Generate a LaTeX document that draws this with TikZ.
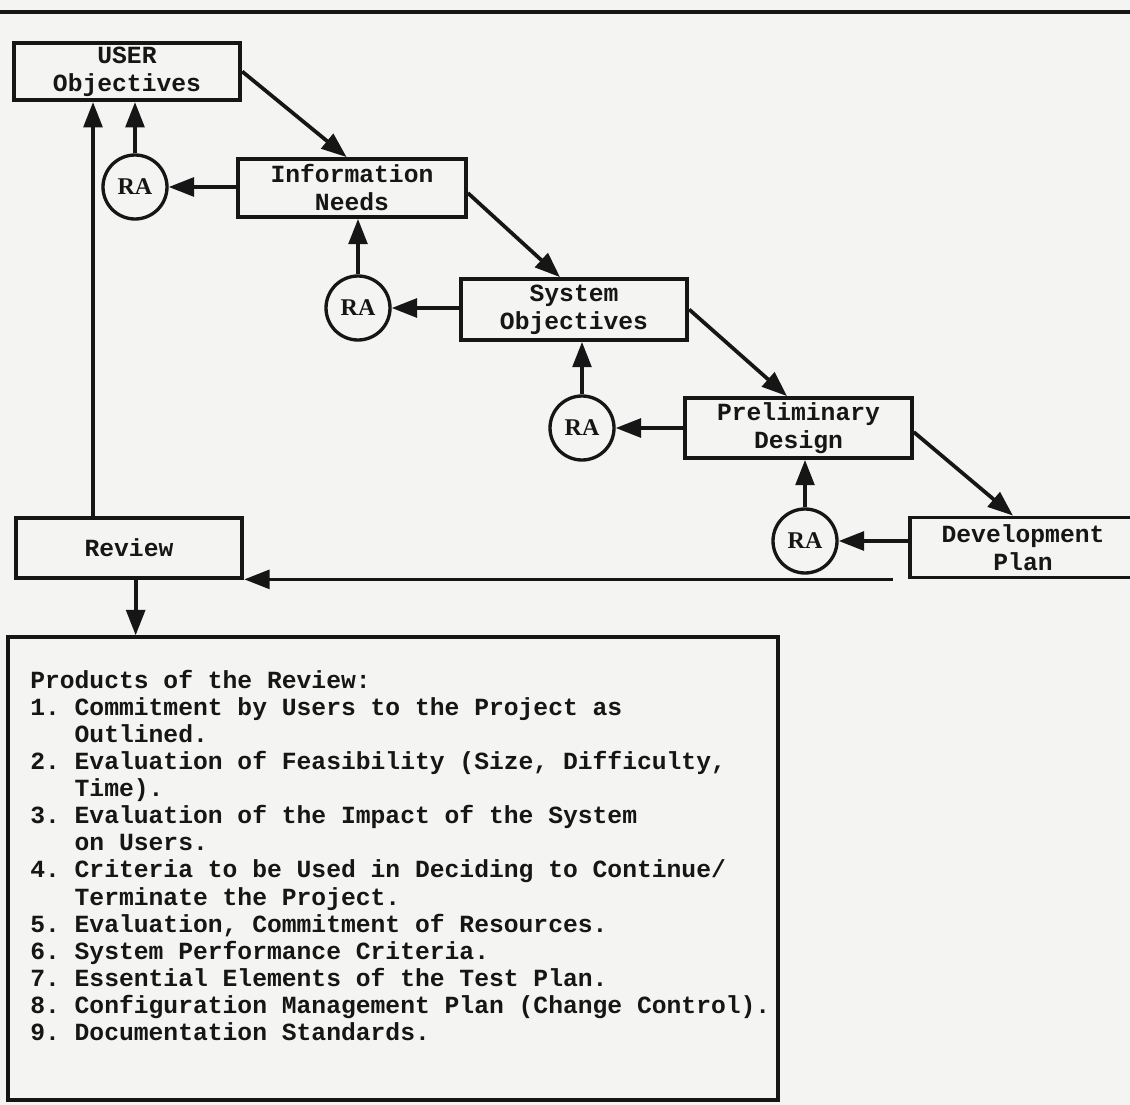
\documentclass[tikz,border=0pt]{standalone}
\usepackage{fontspec}
\newfontfamily\typew{Liberation Mono}
\newfontfamily\raserif{Liberation Serif}
\usetikzlibrary{arrows.meta,calc}
\definecolor{paper}{RGB}{244,244,242}
\definecolor{ink}{RGB}{22,22,22}
\frenchspacing

\begin{document}
\begin{tikzpicture}[x=0.75pt,y=-0.75pt,
  every node/.style={inner sep=0pt, text=ink},
  stage/.style={draw=ink, line width=2.8pt, align=center,
    font=\typew\bfseries\fontsize{18.5}{21}\selectfont,
    minimum width=170pt, minimum height=45pt},
  ra/.style={circle, draw=ink, line width=2.5pt, minimum size=48pt,
    font=\raserif\bfseries\fontsize{18}{18}\selectfont},
  arr/.style={draw=ink, line width=2.8pt, -{Triangle[length=19pt,width=14pt]}}]

% page and bounds
\fill[paper] (0,0) rectangle (1130,1105);
\useasboundingbox (0,0) rectangle (1130,1105);

% rule across the top
\draw[ink, line width=3.6pt] (0,12) -- (1130,12);

% stages of the definition phase
\node[stage, minimum height=43pt] (user) at (127,71.5) {USER\\Objectives};
\node[stage, minimum width=171pt, minimum height=43.5pt] (info) at (352,188) {Information\\Needs};
\node[stage, minimum height=45.75pt] (sysobj) at (574,309.5) {System\\Objectives};
\node[stage] (pd) at (798.5,428) {Preliminary\\Design};
\node[stage] (dp) at (1023,547.5) {Development\\Plan};
\node[stage] (review) at (129,548) {Review};

% review activities
\node[ra] (ra1) at (135,187) {RA};
\node[ra] (ra2) at (358,308) {RA};
\node[ra] (ra3) at (582,428) {RA};
\node[ra] (ra4) at (805,541) {RA};

% products box
\node[draw=ink, line width=2.8pt, minimum width=577.5pt, minimum height=347pt] (products) at (393,868.5) {};
\node[anchor=north west, align=left,
  font=\typew\bfseries\fontsize{18.5}{20.3}\selectfont] (items) at (30,670)
{Products of the Review:\\
1. Commitment by Users to the Project as\\
\phantom{0.\ }Outlined.\\
2. Evaluation of Feasibility (Size, Difficulty,\\
\phantom{0.\ }Time).\\
3. Evaluation of the Impact of the System\\
\phantom{0.\ }on Users.\\
4. Criteria to be Used in Deciding to Continue/\\
\phantom{0.\ }Terminate the Project.\\
5. Evaluation, Commitment of Resources.\\
6. System Performance Criteria.\\
7. Essential Elements of the Test Plan.\\
8. Configuration Management Plan (Change Control).\\
9. Documentation Standards.};

% main flow
\draw[arr] (user.east) -- ([xshift=-4pt]info.north);
\draw[arr] ([yshift=-3.75pt]info.east) -- ([xshift=-10.5pt]sysobj.north);
\draw[arr] (sysobj.east) -- ([xshift=-8.6pt]pd.north);
\draw[arr] ([yshift=-3pt]pd.east) -- ([xshift=-7.5pt]dp.north);

% review activity loops
\draw[arr] (info.west |- ra1.east) -- (ra1.east);
\draw[arr] (ra1.north) -- (ra1.north |- user.south);
\draw[arr] (sysobj.west |- ra2.east) -- (ra2.east);
\draw[arr] (ra2.north) -- (ra2.north |- info.south);
\draw[arr] (pd.west |- ra3.east) -- (ra3.east);
\draw[arr] (ra3.north) -- (ra3.north |- sysobj.south);
\draw[arr] (dp.west |- ra4.east) -- (ra4.east);
\draw[arr] (ra4.north) -- (ra4.north |- pd.south);

% return to review, feedback and products
\coordinate (ret) at ([xshift=-11pt]dp.south west);
\draw[arr] (ret) -- (ret -| review.east);
\coordinate (fb) at ([xshift=-27pt]review.north);
\draw[arr] (fb) -- (fb |- user.south);
\coordinate (out) at ([xshift=5pt]review.south);
\draw[arr] (out) -- (out |- products.north);
\end{tikzpicture}
\end{document}
